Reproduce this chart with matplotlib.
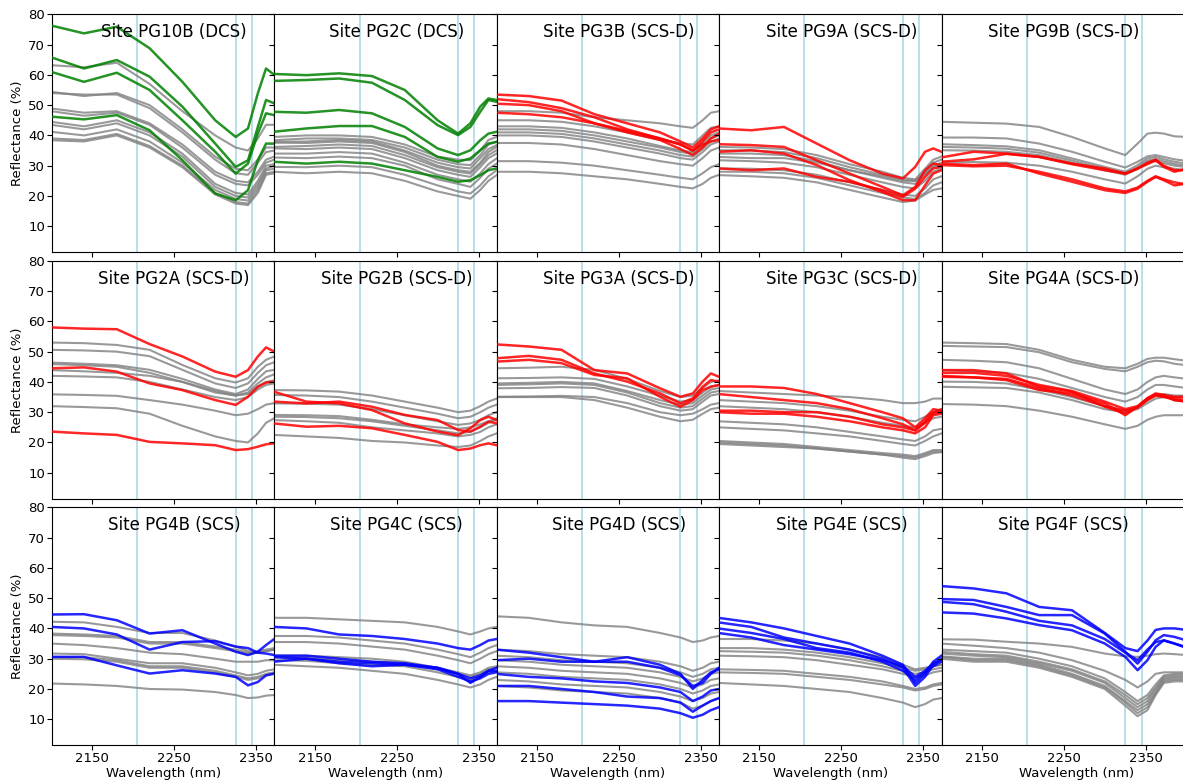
import matplotlib.pyplot as plt

# wavelength knots (nm); the right-hand column runs a bit further
wl = [2100, 2140, 2180, 2220, 2260, 2300, 2325, 2340, 2352, 2362, 2372]
wl_ext = wl + [2385, 2400]

feature_bands = [2205, 2325, 2345]
ticks_x = [2150, 2250, 2350]
ticks_y = [10, 20, 30, 40, 50, 60, 70, 80]

# ---- row 1 ----
pg10b_ref = [
    [63.2, 62.5, 64, 57, 48, 40, 36, 35, 39, 43.5, 43.5],
    [54.4, 53, 54, 50, 42, 33, 29, 28.5, 32, 36, 36],
    [54, 53.5, 53.5, 49, 41, 32, 27.5, 27, 31, 34.5, 35],
    [48.9, 47.5, 48, 44, 37, 28, 25, 24.5, 28, 32, 33],
    [48, 46.5, 47.5, 43.5, 36, 27, 24, 23.5, 27, 31, 32],
    [44.5, 43, 45, 41, 34, 24, 21, 20.5, 25, 30, 30.5],
    [43.5, 42, 44, 40, 33, 23, 20, 19.5, 24, 29, 30],
    [41.2, 40, 42, 38, 31, 22, 19, 18.5, 23, 28.5, 29],
    [39, 38.5, 40.5, 36.5, 30, 21, 18, 17.5, 22, 27.5, 28],
    [38.4, 38, 40, 36, 29.5, 20.5, 17.5, 17, 21, 27, 27.5],
]
pg10b_site = [
    [76.3, 73.7, 75.9, 68.8, 57.7, 45, 39.5, 42.3, 53.9, 62.1, 60],
    [65.8, 62.1, 64.9, 59.4, 49.5, 37.3, 29.6, 31.8, 42.8, 51.7, 50.6],
    [61, 57.7, 60.7, 55, 45, 34.6, 27.4, 30.7, 40.6, 47.3, 46.7],
    [46.2, 45.3, 46.7, 41.7, 31.8, 20.8, 18.6, 21.9, 31.8, 37.3, 37.3],
]

pg2c_ref = [
    [39.5, 40, 40, 39.5, 37, 33, 32, 31.8, 35, 38.5, 39.5],
    [38.4, 39, 39, 38.5, 36, 32, 30.5, 30.2, 33.5, 37, 37.9],
    [37.9, 38, 38.5, 38, 35, 31, 29.5, 29.1, 32.5, 35.5, 36.8],
    [37.6, 37.5, 38, 37.5, 34.5, 30, 28.5, 28, 31, 34.5, 36.2],
    [36.2, 36.5, 37, 36.5, 33.5, 29.5, 28, 27.4, 30.5, 33.5, 35.1],
    [35.7, 35.5, 36, 35.5, 32.5, 28.5, 27, 26.3, 29.5, 32.5, 34],
    [34, 34, 34.5, 34, 31, 27, 25.5, 24.7, 27.5, 30.5, 32.4],
    [32.7, 32.5, 33, 32.5, 30, 25.5, 24, 23, 26, 29, 30.7],
    [29.6, 29.5, 30, 29.5, 27, 23.5, 21.5, 20.8, 23.5, 26.5, 28.5],
    [28, 27.5, 28, 27.5, 25, 21.5, 20, 19.1, 22, 25, 26.9],
]
pg2c_site = [
    [60.3, 59.9, 60.5, 59.6, 55, 45, 40.6, 44, 49.5, 52.2, 51.7],
    [58, 58.3, 58.8, 57.4, 51.7, 43.4, 40.1, 42.8, 47.8, 51.7, 51.1],
    [47.8, 47.5, 48.4, 47.3, 42.8, 35.7, 33.5, 35.1, 38.4, 40.6, 41.2],
    [41.2, 42.3, 43.1, 43.1, 39.5, 32.9, 31.3, 32.4, 35.1, 37.3, 37.9],
    [31.3, 30.7, 31.3, 30.7, 28.5, 26.3, 24.7, 25.2, 26.9, 28.5, 29.1],
]

pg3b_ref = [
    [48, 48, 47.5, 46, 45, 44, 43, 42.5, 45, 47.5, 48],
    [45, 45, 44.5, 43, 41, 38.5, 37.5, 37, 40, 42.5, 43],
    [43, 43, 42.5, 41, 39, 36.5, 35, 34.5, 37.5, 40, 41],
    [42, 42, 41.5, 40, 38, 36, 34.5, 34, 36.5, 39, 40],
    [41, 41, 40.5, 39, 37, 35, 33.5, 33, 35.5, 38, 39],
    [40, 40, 39.5, 38, 36, 34, 32.5, 32, 34.5, 37, 38],
    [37.5, 37.5, 37, 35.5, 33.5, 31.5, 30.5, 30, 32.5, 35, 36],
    [31.5, 31.5, 31, 30, 28.5, 27, 26, 25.5, 27.5, 29.5, 30.5],
    [28, 28, 27.5, 26.5, 25.5, 24, 23, 22.5, 24, 26, 27],
]
pg3b_site = [
    [53.5, 53, 51.5, 47, 44, 41, 38, 36, 39, 42, 43],
    [52, 51, 49, 46, 42, 39, 37, 35, 38, 41, 42],
    [50.5, 50, 48, 44, 41, 38.5, 35.5, 33.5, 36, 39, 40.5],
    [47.5, 47, 46, 44, 41.5, 39, 37, 35, 37, 38, 38.5],
]

pg9a_ref = [
    [36.2, 36, 35.5, 33.5, 30.5, 28, 26, 25.5, 29, 32, 33],
    [35.1, 35, 34.5, 32.5, 29.5, 27, 25.5, 25, 28, 31, 32],
    [34, 34, 33.5, 31.5, 28.5, 26, 24.5, 24, 27, 30, 31],
    [32.9, 32.5, 32.5, 31, 28.5, 26.5, 25, 25, 27.5, 29.5, 30.5],
    [31.8, 31.5, 31, 29.5, 27, 24.5, 23, 22.5, 25, 28, 29],
    [29.1, 29, 28.5, 27, 24.5, 22, 20.5, 20, 22.5, 25.5, 26.5],
    [28, 28, 27.5, 26, 23.5, 21, 19.5, 19, 21, 23.5, 24.5],
    [26.9, 26.5, 26, 24.5, 22, 19.5, 18, 18.5, 20.5, 22, 22.5],
]
pg9a_site = [
    [42.3, 41.7, 42.8, 37.3, 31.8, 27.4, 25.8, 29.6, 34.6, 35.7, 34.6],
    [37.1, 36.8, 36.2, 31.8, 27.4, 23, 20.2, 23, 28.5, 30.7, 30.2],
    [34.6, 35.1, 34, 30.2, 25.2, 21.3, 18.6, 18.6, 23.5, 27.4, 28.5],
    [29.1, 28.5, 29.1, 26.3, 24.7, 21.9, 19.7, 22.4, 26.3, 29.1, 29.6],
]

pg9b_ref = [
    [44.5, 44.2, 43.9, 42.8, 39.5, 35.7, 33.5, 37.3, 40.6, 40.9, 40.6, 39.7, 39.5],
    [39.3, 39.3, 39, 37.3, 34.6, 31.3, 29.4, 31.3, 33.1, 33.5, 32.9, 32.1, 31.6],
    [37.1, 36.8, 36.4, 35.1, 32.4, 29.6, 28, 30.2, 32.4, 32.9, 32.1, 31.3, 30.7],
    [36.2, 36, 35.6, 34.3, 31.7, 28.9, 27.3, 29.5, 31.7, 32.2, 31.4, 30.6, 30],
    [35.1, 35, 34.6, 33.5, 31, 28.5, 27, 29, 31, 31.5, 30.8, 30, 29.5],
    [31.3, 31.2, 31, 30, 28, 25.5, 24.1, 26.5, 29, 30, 29.5, 29, 28.5],
]
pg9b_site = [
    [32.7, 34.6, 34, 32.9, 30.7, 29.1, 27.4, 29.1, 30.5, 31.8, 29.6, 28, 29.1],
    [31.3, 32.1, 33.9, 32.9, 30.5, 28.5, 27.4, 29, 31, 32, 30, 28.5, 28.5],
    [30.7, 30.2, 30.7, 27.4, 24.7, 21.9, 21, 22.4, 24.7, 26.3, 25.2, 23.5, 24.1],
    [30.2, 29.8, 30, 28, 25.5, 22.5, 21.5, 22.8, 25, 26.5, 25.5, 24.5, 23.8],
]

# ---- row 2 ----
pg2a_ref = [
    [53, 52.8, 52.2, 50.6, 45.6, 41.2, 39.8, 41.2, 45, 47.3, 48.4],
    [50.6, 50.4, 50, 48.5, 44, 39.5, 38, 39.5, 43, 45.5, 46.5],
    [46.4, 46, 45.5, 44, 41, 37.5, 36, 37.5, 41, 43.5, 44],
    [45.9, 45.5, 45, 43, 40, 36.5, 35.5, 36.5, 39.5, 41.5, 42.5],
    [43.9, 43.5, 43, 42, 40, 37, 35.5, 36, 38.5, 40, 40.5],
    [42, 41.8, 41.5, 40, 37.5, 35, 34, 35, 37.5, 39, 39.5],
    [35.9, 35.7, 35.4, 34, 32.5, 30.5, 29, 29.5, 31, 32.5, 33],
    [32, 31.7, 31.3, 29.5, 25.5, 22, 20.5, 20, 23, 26.5, 28],
]
pg2a_site = [
    [58, 57.6, 57.4, 52.5, 48.4, 43.4, 41.7, 43.9, 48.4, 51.4, 50],
    [44.5, 44.8, 43.4, 39.5, 37.3, 34, 32.4, 35.1, 38.4, 39.8, 40.1],
    [23.6, 23, 22.5, 20.2, 19.7, 19.1, 17.5, 17.8, 18.6, 19.4, 19.7],
]

pg2b_ref = [
    [37.3, 37.2, 36.8, 35.5, 33.5, 31.5, 30, 30.5, 32, 33.5, 34.5],
    [35.7, 35.5, 35, 33.5, 31.5, 29.5, 28, 28.5, 30, 31.5, 32.5],
    [32.9, 32.8, 32.5, 31, 29, 27, 25.8, 26.3, 27.5, 29, 30],
    [29.1, 29, 28.7, 27.5, 26, 25, 24.5, 25, 26, 27, 28],
    [28.5, 28.4, 28, 27, 25.5, 24, 23, 23.5, 25, 26.5, 27.5],
    [27.4, 27, 26.5, 25, 24, 23, 22, 22.5, 23.5, 25, 26],
    [22.5, 22, 21.5, 20.5, 20, 19, 18.5, 19, 20.5, 22, 23],
]
pg2b_site = [
    [36.8, 33.5, 32.9, 30.7, 26.3, 23.6, 22.4, 24.7, 27.4, 28.5, 27.4],
    [33.5, 32.9, 33.5, 31.8, 29.1, 27.4, 24.1, 23.6, 25.2, 26.9, 26.3],
    [26.3, 25.2, 25.5, 24.7, 22.5, 20.2, 17.5, 18, 19.1, 19.7, 19.1],
]

pg3a_ref = [
    [44.5, 44.7, 45, 44, 41, 37, 35, 35.5, 38, 40, 40.5],
    [41.2, 41.3, 41.5, 41, 38.5, 35.5, 33.5, 34, 36.5, 38.5, 39],
    [39.5, 39.7, 40, 39.5, 37, 34, 32.5, 33, 35.5, 37.5, 38],
    [39, 39.2, 39.5, 39, 36.5, 33, 31.5, 32, 34.5, 36.5, 37],
    [37.9, 38, 38.3, 38, 35.5, 32, 30.5, 31, 33.5, 35.5, 36],
    [35.1, 35.2, 35.4, 35, 33, 30, 29, 29.5, 31, 32.5, 33],
    [35, 35, 35, 34, 31.5, 28.5, 27, 27.5, 29.5, 31, 31.5],
]
pg3a_site = [
    [52.4, 51.7, 50.6, 43.9, 42.8, 37.9, 35.1, 36.2, 40.1, 42.8, 41.7],
    [47.8, 48.6, 47.3, 42.8, 40.1, 36.2, 32.9, 34.6, 38.4, 40.6, 40.1],
    [46.7, 47.3, 46.2, 42.3, 41.2, 35.1, 31.8, 34, 37.3, 38.4, 39],
]

pg3c_ref = [
    [37, 36.5, 36, 35.5, 35, 34, 33, 33, 33.5, 34.5, 34.5],
    [34, 33.5, 33, 32, 30.5, 28.5, 27.5, 27, 28.5, 30, 30.5],
    [32, 31.5, 31, 30, 28.5, 26.5, 25.5, 25, 26.5, 28, 28.5],
    [27, 26.5, 26, 25, 23.5, 22, 21, 20.5, 22, 24, 24.5],
    [25, 24.5, 24, 23, 22, 20.5, 19.5, 19, 20.5, 22, 23],
    [20.5, 20, 19.5, 18.5, 17.5, 16.5, 16, 15.5, 16.5, 17.5, 17.5],
    [19.5, 19, 18.5, 18, 17, 16, 15.5, 15, 16, 17, 17],
    [20, 19.5, 19, 18, 17, 16, 15, 14.5, 15.5, 16.5, 16.8],
]
pg3c_site = [
    [38.5, 38.5, 38, 36, 33, 30, 28, 25, 28, 31, 30.5],
    [36, 35, 34, 33, 31, 28, 26, 24, 26.5, 29.5, 30],
    [30.5, 30.5, 30, 30, 28.5, 26, 25, 24, 27, 30, 31],
    [30, 29.5, 29.5, 28.5, 27, 25, 24, 23, 25, 29, 29.5],
]

pg4a_ref = [
    [53, 52.8, 52.5, 50.6, 47.3, 45, 44.5, 46, 47.6, 48, 48, 47.5, 47],
    [51.9, 51.7, 51.5, 49.8, 46.5, 44.3, 43.5, 45, 46.5, 47, 46.8, 46, 45.5],
    [47.3, 47, 46.5, 44.5, 41, 37.5, 36, 37.5, 40, 41.5, 42, 41.5, 41],
    [43.9, 43.5, 43, 41, 38, 35, 33.5, 35, 37.5, 39, 39, 38.5, 38],
    [40.1, 40, 39.5, 37.5, 35, 32, 30.5, 31.5, 34, 35.5, 36, 35.5, 35.5],
    [38.4, 38.2, 38, 36.5, 34, 31, 30, 31, 33, 34.5, 35, 35, 35],
    [32.7, 32.5, 32, 30.5, 28.5, 26, 24.5, 25.5, 27.5, 28.5, 29, 29, 29],
]
pg4a_site = [
    [43.9, 43.9, 42.8, 38.4, 36.8, 31.8, 29.6, 31.8, 34.6, 36.2, 35.7, 35.1, 35.1],
    [42, 41.5, 40.6, 37.3, 36.2, 32.9, 29, 31.8, 34.6, 35.7, 35.2, 34, 33.5],
    [41.7, 41.5, 41, 38, 35.5, 32, 30.5, 31.5, 34, 35.5, 35, 34.5, 34],
    [43, 43, 42, 39, 37, 33.5, 31, 32, 34.5, 36, 35.5, 34, 33.5],
]

# ---- row 3 ----
pg4b_ref = [
    [42.2, 42, 40.5, 38.5, 38.5, 36, 34, 32.5, 32, 32.5, 33],
    [38.3, 38, 37.5, 35.5, 35.5, 34, 33, 32, 32.5, 33, 33.5],
    [37.8, 37.5, 37, 35, 35, 33.5, 32.5, 31.5, 32, 32.5, 33],
    [35, 34.5, 33.5, 32, 31.5, 30, 29, 29, 29, 29.5, 29.5],
    [31.7, 31.5, 30, 28.5, 28.5, 27, 25.5, 24.5, 25, 26, 26.5],
    [30.6, 30.5, 29.5, 27.5, 27.5, 26, 24.5, 23.5, 24, 25, 25.5],
    [30, 29.8, 29, 27, 27, 25.5, 24, 23, 23.5, 24.5, 25],
    [21.8, 21.5, 21, 20, 19.8, 19, 18, 17, 17.2, 17.8, 18],
]
pg4b_site = [
    [44.6, 44.7, 42.7, 38.3, 39.4, 35, 32.3, 31.2, 32.3, 34.5, 36.5],
    [40.5, 40, 38, 33, 35.5, 35.8, 34, 33.5, 32, 31.7, 31.2],
    [30.6, 30.6, 27.8, 25.1, 26.2, 25.1, 24, 21.2, 22.3, 24.5, 25.1],
]

pg4c_ref = [
    [43.5, 43.5, 43, 42.5, 42, 40.5, 39, 38, 39, 40, 40.5],
    [37.5, 37.5, 37, 36, 35, 33, 31.5, 30.5, 32, 33.5, 34.5],
    [35.5, 35.5, 35, 34, 33, 31, 29.5, 28.5, 30, 31.5, 32.5],
    [31, 31, 30.5, 30, 29, 27, 25.5, 24.5, 25.5, 27, 27.5],
    [30.5, 30.3, 29.5, 29, 28.5, 26.5, 25, 24, 25, 26.5, 27],
    [29.5, 29.3, 28.5, 28, 27.5, 25.5, 24, 23, 24, 25.5, 26],
    [28, 27.5, 27, 26, 25, 23, 21.5, 20.5, 21.5, 23, 24],
]
pg4c_site = [
    [40.5, 40, 38, 37.5, 36.5, 35, 33.5, 33, 34.5, 36, 36.5],
    [31, 31, 30, 29, 28.5, 27, 25, 23.5, 24.5, 26, 27],
    [30.5, 30, 29, 28.5, 28, 26.5, 24, 22.5, 23.5, 25, 25.5],
    [29, 30, 28.5, 27.5, 28, 27, 25, 22, 24, 26, 26],
]

pg4d_ref = [
    [44, 43.5, 42, 41, 40.5, 38.5, 37, 35.5, 36, 37, 37.5],
    [33, 32.5, 31.5, 31, 30.5, 29, 27.5, 26, 27, 28.5, 29],
    [31, 30.5, 29.5, 29, 28.5, 27, 25.5, 24, 25, 26.5, 27],
    [29.5, 29, 28, 27.5, 27, 25.5, 24, 22.5, 23.5, 25, 25.5],
    [27.5, 27, 26, 25.5, 25, 23.5, 22, 20.5, 21.5, 23, 23.5],
    [25.5, 25, 24, 23.5, 23, 21.5, 20, 18.5, 19.5, 21, 21.5],
    [23, 22.5, 21.5, 21, 20.5, 19, 17.5, 16, 17, 18.5, 19],
    [21, 20.5, 19.5, 19, 18.5, 17, 15.5, 13.5, 14.5, 16, 17],
]
pg4d_site = [
    [33, 32, 30.5, 29, 29, 27, 24.5, 21, 22, 25, 27],
    [29.5, 30, 29, 29, 30.5, 28, 25, 20, 23, 25.5, 26.5],
    [25, 24, 23.5, 22.5, 22, 20.5, 19, 16, 17.5, 19.5, 20],
    [21, 21, 20, 19, 17.5, 17, 15.5, 12.5, 14.5, 16, 17],
    [16, 16, 15.5, 15, 14.5, 13.5, 12, 10.5, 11.5, 13, 14],
]

pg4e_ref = [
    [36.5, 36.5, 36, 35, 33, 30.5, 28, 26.5, 27, 27.5, 28],
    [33.5, 33.5, 33, 32, 30.5, 28.5, 27, 26, 26.5, 27.5, 28],
    [32.5, 32.3, 32, 31, 29.5, 27.5, 26, 25, 25.5, 26.5, 27],
    [31, 30.8, 30.5, 29.5, 28, 26.5, 25, 24, 24.5, 25.5, 26],
    [26.5, 26.3, 26, 25, 24, 22.5, 21, 20, 20.5, 21.5, 22],
    [25.5, 25.3, 25, 24, 23, 21.5, 20.5, 19.5, 20, 21, 21.5],
    [22, 21.5, 21, 20, 19, 17, 15.5, 14, 15, 16.5, 17],
]
pg4e_site = [
    [43.5, 42, 40, 37.5, 35, 31, 28, 22, 25, 29, 31],
    [42, 40.5, 37, 35, 33, 30, 27, 21, 24, 28, 30],
    [40, 38.5, 36.5, 33.5, 32, 29, 26, 23, 25.5, 27.5, 29],
    [38.5, 37, 34.5, 33, 31.5, 29.5, 27.5, 24, 26, 28.5, 29.5],
]

pg4f_ref = [
    [36.4, 36.3, 35.6, 35, 33.9, 31.7, 30.8, 30.6, 31, 31.5, 31.7, 31.5, 31.2],
    [35, 34.3, 33.5, 32, 29.5, 26, 23, 20.5, 22.5, 25, 25.5, 25.5, 25.5],
    [33, 32.5, 32, 30, 27.5, 23.5, 19, 16, 18, 21.5, 24.5, 25, 25],
    [32.3, 31.5, 31, 29, 26.5, 22.5, 18, 15, 17, 20.5, 24, 24.5, 24.5],
    [31.7, 31, 30.5, 28.5, 26, 22, 17, 14, 16, 20, 23.5, 24, 24],
    [30.8, 30, 30, 28, 25, 21, 16, 13, 15, 19, 23, 23.5, 23.5],
    [30.6, 29.5, 29.5, 27.5, 24.5, 20.5, 15.5, 12, 14, 18.5, 22.5, 23, 23],
    [30, 29, 29, 27, 24, 20, 14.5, 11, 13, 18, 22, 22.5, 22.5],
]
pg4f_site = [
    [54, 53.2, 51.6, 47.1, 46, 38.5, 33.5, 32.5, 36, 39.5, 40, 40, 39.5],
    [49.7, 49.4, 47.1, 44.4, 44.4, 38.3, 32.3, 28.4, 32.3, 36.1, 37.8, 37.2, 36],
    [48.8, 48, 45.5, 42.5, 41, 36.5, 32, 29.5, 33, 35.5, 36, 35, 33.5],
    [45.3, 44.9, 43.3, 41.1, 39.4, 35, 30.6, 26.2, 29.5, 33.9, 36.1, 35, 33.8],
]

panels = [
    ("Site PG10B (DCS)", pg10b_ref, pg10b_site, "green"),
    ("Site PG2C (DCS)", pg2c_ref, pg2c_site, "green"),
    ("Site PG3B (SCS-D)", pg3b_ref, pg3b_site, "red"),
    ("Site PG9A (SCS-D)", pg9a_ref, pg9a_site, "red"),
    ("Site PG9B (SCS-D)", pg9b_ref, pg9b_site, "red"),
    ("Site PG2A (SCS-D)", pg2a_ref, pg2a_site, "red"),
    ("Site PG2B (SCS-D)", pg2b_ref, pg2b_site, "red"),
    ("Site PG3A (SCS-D)", pg3a_ref, pg3a_site, "red"),
    ("Site PG3C (SCS-D)", pg3c_ref, pg3c_site, "red"),
    ("Site PG4A (SCS-D)", pg4a_ref, pg4a_site, "red"),
    ("Site PG4B (SCS)", pg4b_ref, pg4b_site, "blue"),
    ("Site PG4C (SCS)", pg4c_ref, pg4c_site, "blue"),
    ("Site PG4D (SCS)", pg4d_ref, pg4d_site, "blue"),
    ("Site PG4E (SCS)", pg4e_ref, pg4e_site, "blue"),
    ("Site PG4F (SCS)", pg4f_ref, pg4f_site, "blue"),
]

W, H = 1183, 783
fig = plt.figure(figsize=(W / 100, H / 100), dpi=100)

# panel grid in pixels
x0, col_w = 52, 222.4
y0, row_pitch, row_h = 14.3, 246.5, 238
px_per_nm = col_w / 271.2

for i, (title, ref, site, colour) in enumerate(panels):
    r, c = divmod(i, 5)
    width = col_w if c < 4 else 270
    top = y0 + r * row_pitch
    ax = fig.add_axes([(x0 + c * col_w) / W, 1 - (top + row_h) / H,
                       width / W, row_h / H])
    x = wl if c < 4 else wl_ext

    for b in feature_bands:
        ax.axvline(b, color="lightblue", linewidth=1.2, zorder=1)
    for y in ref:
        ax.plot(x, y, color="gray", alpha=0.8, linewidth=1.5, zorder=2)
    for y in site:
        ax.plot(x, y, color=colour, alpha=0.85, linewidth=1.8, zorder=3)

    ax.text(2250, 74, title, ha="center", va="center", fontsize=12)

    ax.set_xlim(2101, 2101 + width / px_per_nm)
    ax.set_ylim(1.4, 80)
    ax.set_xticks(ticks_x)
    ax.set_yticks(ticks_y)
    ax.tick_params(labelleft=(c == 0), labelbottom=(r == 2), pad=1.5,
                   labelsize=9.5)
    if c == 0:
        ax.set_ylabel("Reflectance (%)", fontsize=9.5, labelpad=3)
    if r == 2:
        ax.set_xlabel("Wavelength (nm)", fontsize=9.5, labelpad=1)

fig.savefig("out.png", dpi=100)
